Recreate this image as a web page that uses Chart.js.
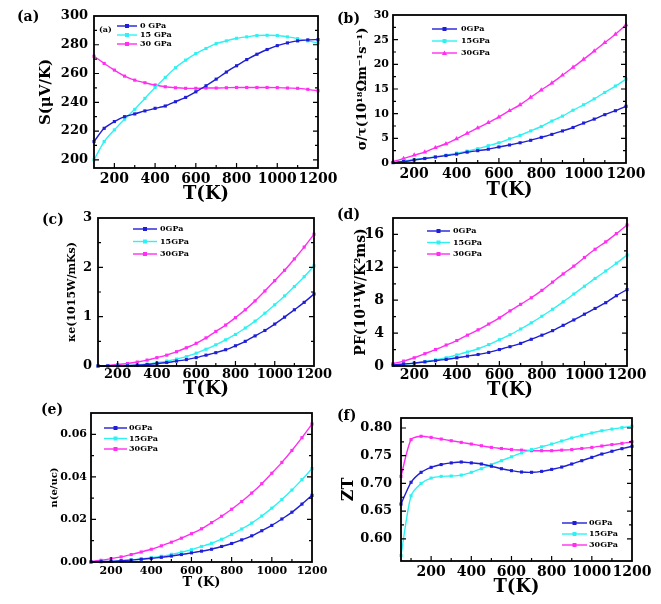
<!DOCTYPE html>
<html><head><meta charset="utf-8">
<script src="https://cdn.jsdelivr.net/npm/chart.js@4.4.0/dist/chart.umd.min.js"></script>
<style>
html,body{margin:0;padding:0;background:#fff;}
#wrap{position:relative;width:661px;height:604px;overflow:hidden;background:#fff;}
#wrap canvas{position:absolute;left:0;top:0;}
.lbl{position:absolute;font:bold 14px "DejaVu Serif",serif;color:#000;line-height:1;}
</style></head><body>
<div id="wrap">
<canvas id="ca" width="661" height="604"></canvas>
<canvas id="cb" width="661" height="604"></canvas>
<canvas id="cc" width="661" height="604"></canvas>
<canvas id="cd" width="661" height="604"></canvas>
<canvas id="ce" width="661" height="604"></canvas>
<canvas id="cf" width="661" height="604"></canvas>
<div class="lbl" style="left:17px;top:9px">(a)</div>
<div class="lbl" style="left:337px;top:11px">(b)</div>
<div class="lbl" style="left:42px;top:212px">(c)</div>
<div class="lbl" style="left:337px;top:207px">(d)</div>
<div class="lbl" style="left:41px;top:402px">(e)</div>
<div class="lbl" style="left:337px;top:408px">(f)</div>
</div>
<script>
// ---------- data ----------
const temps = [100,150,200,250,300,350,400,450,500,550,600,650,700,750,800,850,900,950,1000,1050,1100,1150,1200];
const tempsZT = [50,100,150,200,250,300,350,400,450,500,550,600,650,700,750,800,850,900,950,1000,1050,1100,1150,1200];
const seriesNames = ['0GPa','15GPa','30GPa'];
const seriesNamesA = ['0 GPa','15 GPa','30 GPa'];

const seebeck0  = [212.7,221.9,226.6,230.0,231.9,234.0,235.8,237.4,240.4,243.4,247.3,251.5,256.1,261.0,265.4,269.7,273.4,276.7,279.4,281.3,282.7,283.4,283.6];
const seebeck15 = [200.0,212.7,220.8,228.2,235.1,242.7,250.3,257.3,264.0,269.3,273.9,277.4,280.8,282.7,284.5,285.5,286.4,286.6,286.4,285.5,284.3,282.7,281.3];
const seebeck30 = [272.0,267.0,262.4,258.2,255.4,253.6,252.0,250.8,250.1,249.7,249.7,249.9,249.9,250.1,250.3,250.3,250.3,250.3,250.2,249.9,249.7,249.0,248.0];

const sigma0  = [0.07,0.3,0.6,0.9,1.2,1.5,1.8,2.2,2.5,2.8,3.25,3.65,4.1,4.6,5.2,5.8,6.5,7.2,8.1,8.9,9.8,10.6,11.5];
const sigma15 = [0.1,0.4,0.7,0.95,1.3,1.6,2.0,2.4,2.9,3.5,4.1,4.9,5.6,6.5,7.4,8.5,9.5,10.7,11.8,13.0,14.3,15.6,17.0];
const sigma30 = [0.3,0.9,1.6,2.2,3.1,3.9,4.9,6.0,7.1,8.2,9.3,10.6,11.8,13.3,14.8,16.2,17.8,19.4,21.0,22.7,24.4,26.1,28.0];

const kappa0  = [0,0,0,0.005,0.015,0.03,0.05,0.07,0.1,0.13,0.17,0.22,0.27,0.33,0.41,0.5,0.61,0.72,0.85,0.99,1.14,1.29,1.46];
const kappa15 = [0,0,0.005,0.01,0.02,0.04,0.07,0.1,0.14,0.19,0.26,0.34,0.43,0.53,0.64,0.77,0.91,1.07,1.24,1.42,1.61,1.81,2.03];
const kappa30 = [0,0.01,0.03,0.05,0.08,0.12,0.17,0.22,0.29,0.37,0.46,0.57,0.70,0.83,0.98,1.14,1.32,1.52,1.73,1.94,2.17,2.41,2.67];

const pf0  = [0.12,0.25,0.35,0.5,0.65,0.8,1.0,1.2,1.4,1.65,2.0,2.35,2.75,3.25,3.75,4.3,4.95,5.6,6.3,7.0,7.7,8.55,9.3];
const pf15 = [0.1,0.2,0.35,0.55,0.75,1.0,1.35,1.7,2.1,2.6,3.2,3.8,4.5,5.25,6.05,6.9,7.8,8.75,9.7,10.65,11.55,12.5,13.5];
const pf30 = [0.3,0.6,1.0,1.5,2.0,2.55,3.1,3.75,4.4,5.1,5.85,6.7,7.5,8.3,9.2,10.2,11.2,12.15,13.2,14.2,15.1,16.1,17.15];

const carrier0  = [0,0.0002,0.0003,0.0006,0.0009,0.0013,0.0017,0.0022,0.0028,0.0035,0.0043,0.0051,0.006,0.0073,0.0087,0.0104,0.0123,0.0147,0.0172,0.0202,0.0234,0.0272,0.0313];
const carrier15 = [0,0.0001,0.0003,0.0006,0.001,0.0014,0.002,0.0027,0.0036,0.0046,0.0058,0.0073,0.0088,0.0107,0.013,0.0155,0.0183,0.0216,0.0253,0.0294,0.0338,0.0387,0.0439];
const carrier30 = [0.0002,0.0008,0.0016,0.0024,0.0035,0.0047,0.006,0.0076,0.0093,0.0112,0.0133,0.0156,0.0185,0.0215,0.0248,0.0284,0.0324,0.0368,0.0417,0.0468,0.0524,0.0584,0.0648];

const zt0  = [0.6627,0.702,0.72,0.729,0.734,0.737,0.7386,0.737,0.735,0.731,0.7265,0.723,0.7205,0.72,0.7217,0.7253,0.7295,0.735,0.741,0.747,0.753,0.758,0.7627,0.767];
const zt15 = [0.570,0.6777,0.700,0.7096,0.7127,0.7133,0.715,0.720,0.7265,0.734,0.741,0.748,0.755,0.761,0.766,0.771,0.7765,0.782,0.7867,0.791,0.795,0.798,0.8006,0.803];
const zt30 = [0.7127,0.779,0.785,0.783,0.780,0.777,0.774,0.771,0.768,0.765,0.763,0.761,0.760,0.759,0.759,0.759,0.760,0.761,0.763,0.765,0.7675,0.770,0.7723,0.775];

const xTickLabels = [200,400,600,800,1000,1200];
const yTicksA = [200,220,240,260,280,300];
const yTicksB = [0,5,10,15,20,25,30];
const yTicksC = [0,1,2,3];
const yTicksD = [0,4,8,12,16];
const yTicksE = [0,0.02,0.04,0.06];
const yTicksF = [0.60,0.65,0.70,0.75,0.80];

// ---------- styling ----------
const COLORS = ['#1f1fd6','#2ef2f2','#ff2ef0'];
const FAM = '"DejaVu Serif", serif';
const W = 661, H = 604;

const framePlugin = {
  id:'frame',
  afterDatasetsDraw(chart, args, o){
    const {ctx, chartArea:a, scales:{x,y}} = chart;
    ctx.save();
    ctx.strokeStyle = '#000';
    ctx.lineWidth = 1.8;
    ctx.strokeRect(a.left, a.top, a.right-a.left, a.bottom-a.top);
    ctx.lineWidth = 1.2;
    const xv = x.ticks.map(t=>t.value), yv = y.ticks.map(t=>t.value);
    const xs = [], ys = [];
    xv.forEach((v,i)=>{ xs.push([v,5]); if(i>0) xs.push([(v+xv[i-1])/2,3]); });
    if (xv.length>1) xs.push([xv[0]-(xv[1]-xv[0])/2,3]);
    yv.forEach((v,i)=>{ ys.push([v,5]); if(i>0) ys.push([(v+yv[i-1])/2,3]); });
    ctx.beginPath();
    xs.forEach(([v,l])=>{ const p = x.getPixelForValue(v); if(p>a.left+1 && p<a.right-1){ ctx.moveTo(p,a.bottom); ctx.lineTo(p,a.bottom-l);} });
    ys.forEach(([v,l])=>{ const p = y.getPixelForValue(v); if(p>a.top+1 && p<a.bottom-1){ ctx.moveTo(a.left,p); ctx.lineTo(a.left+l,p); ctx.moveTo(a.right,p); ctx.lineTo(a.right-l,p);} });
    ctx.stroke();
    ctx.restore();
  }
};

const legendPlugin = {
  id:'inlegend',
  afterDraw(chart, args, o){
    if(!o || o.x===undefined) return;
    const ctx = chart.ctx;
    ctx.save();
    ctx.font = 'bold ' + o.size + 'px ' + FAM;
    ctx.textBaseline = 'middle';
    ctx.textAlign = 'left';
    chart.data.datasets.forEach((ds,i)=>{
      const y = o.y + i*o.dy;
      ctx.strokeStyle = ds.borderColor; ctx.lineWidth = 1.4;
      ctx.beginPath(); ctx.moveTo(o.x,y); ctx.lineTo(o.x+o.len,y); ctx.stroke();
      ctx.fillStyle = ds.borderColor;
      const mx = o.x + o.len/2;
      if (ds.pointStyle==='triangle'){ ctx.beginPath(); ctx.moveTo(mx,y-2.6); ctx.lineTo(mx+2.6,y+2); ctx.lineTo(mx-2.6,y+2); ctx.closePath(); ctx.fill(); }
      else ctx.fillRect(mx-2,y-2,4,4);
      ctx.fillStyle = '#000';
      ctx.fillText(ds.label, o.x+o.len+o.gap, y);
    });
    if (o.tag){ ctx.fillText(o.tag.text, o.tag.x, o.tag.y); }
    ctx.restore();
  }
};

function makePanel(id, p){
  const datasets = p.values.map((vals,i)=>({
    label: p.names[i],
    data: p.x.map((t,j)=>({x:t, y:vals[j]})),
    borderColor: COLORS[i], backgroundColor: COLORS[i],
    borderWidth: 1.4, pointStyle: (p.styles && p.styles[i]) || 'rect',
    pointRadius: (p.styles && p.styles[i]==='triangle') ? 2.8 : 2.2,
    pointBorderWidth: 0, tension: 0.25, clip: false
  }));
  const lhx = p.xTitleSize*1.2, lhy = p.yTitleSize*1.2;
  return new Chart(document.getElementById(id), {
    type:'line',
    data:{datasets},
    plugins:[framePlugin, legendPlugin],
    options:{
      responsive:false, animation:false, events:[],
      layout:{padding:{left:0, top:p.T, right:W-p.R, bottom:0}},
      plugins:{legend:{display:false}, tooltip:{enabled:false}, inlegend:p.legend},
      scales:{
        x:{type:'linear', position:'bottom', min:p.xmin, max:p.xmax,
          afterFit:s=>{s.height = H - p.B;},
          afterBuildTicks:s=>{s.ticks = xTickLabels.map(v=>({value:v}));},
          grid:{display:false, drawTicks:false, tickLength:0}, border:{display:false},
          ticks:{color:'#000', font:{family:FAM, weight:'bold', size:p.xTickSize}, padding:p.xTickPad, maxRotation:0, autoSkip:false,
            callback:(v)=>String(v)},
          title:{display:true, text:p.xTitle, color:'#000', font:{family:FAM, weight:'bold', size:p.xTitleSize},
            padding:{top:0, bottom: H - p.xTitleY - lhx/2}}
        },
        y:{type:'linear', position:'left', min:p.ymin, max:p.ymax,
          afterFit:s=>{s.width = p.L;},
          afterBuildTicks:s=>{s.ticks = p.yTicks.map(v=>({value:v}));},
          grid:{display:false, drawTicks:false, tickLength:0}, border:{display:false},
          ticks:{color:'#000', font:{family:FAM, weight:'bold', size:p.yTickSize}, padding:p.yTickPad, autoSkip:false,
            callback:(v)=> p.yDec!==undefined ? Number(v).toFixed(p.yDec) : String(v)},
          title:{display:true, text:p.yTitle, color:'#000', font:{family:FAM, weight:'bold', size:p.yTitleSize},
            padding:{top: p.yTitleX - lhy/2, bottom:0}}
        }
      }
    }
  });
}

makePanel('ca', {L:94,R:318,T:16,B:168, xmin:100,xmax:1200, ymin:194.3,ymax:300,
  x:temps, values:[seebeck0,seebeck15,seebeck30], names:seriesNamesA, yTicks:yTicksA,
  xTickSize:14, xTickPad:3, yTickSize:13, yTickPad:6,
  xTitle:'T(K)', xTitleSize:18, xTitleY:194, yTitle:'S(\u03bcV/K)', yTitleSize:15, yTitleX:46,
  legend:{x:117, y:26, dy:9, len:20, gap:3, size:8, tag:{text:'(a)', x:99, y:30}}});

makePanel('cb', {L:393,R:626,T:15,B:163, xmin:100,xmax:1200, ymin:0,ymax:30,
  x:temps, values:[sigma0,sigma15,sigma30], names:seriesNames, yTicks:yTicksB, styles:['rect','rect','triangle'],
  xTickSize:14, xTickPad:3, yTickSize:11, yTickPad:4,
  xTitle:'T(K)', xTitleSize:18, xTitleY:190, yTitle:'\u03c3/\u03c4(10\u00b9\u2078\u03a9m\u207b\u00b9s\u207b\u00b9)', yTitleSize:13, yTitleX:363,
  legend:{x:432, y:29, dy:12, len:25, gap:4, size:8}});

makePanel('cc', {L:98,R:314,T:218,B:366, xmin:100,xmax:1200, ymin:0,ymax:3,
  x:temps, values:[kappa0,kappa15,kappa30], names:seriesNames, yTicks:yTicksC,
  xTickSize:13, xTickPad:1, yTickSize:13, yTickPad:6,
  xTitle:'T(K)', xTitleSize:18, xTitleY:389, yTitle:'\u03bae(1015W/mKs)', yTitleSize:11, yTitleX:72,
  legend:{x:133, y:229, dy:12.5, len:24, gap:3, size:8}});

makePanel('cd', {L:393,R:627,T:218,B:366, xmin:100,xmax:1200, ymin:0,ymax:18,
  x:temps, values:[pf0,pf15,pf30], names:seriesNames, yTicks:yTicksD,
  xTickSize:14, xTickPad:1, yTickSize:14, yTickPad:9,
  xTitle:'T(K)', xTitleSize:18, xTitleY:390, yTitle:'PF(10\u00b9\u00b9W/K\u00b2ms)', yTitleSize:14, yTitleX:361,
  legend:{x:427, y:231, dy:11.5, len:23, gap:3, size:8}});

makePanel('ce', {L:91,R:312,T:413,B:562, xmin:100,xmax:1200, ymin:0,ymax:0.07,
  x:temps, values:[carrier0,carrier15,carrier30], names:seriesNames, yTicks:yTicksE, yDec:2,
  xTickSize:11, xTickPad:3, yTickSize:11, yTickPad:4,
  xTitle:'T (K)', xTitleSize:13, xTitleY:583, yTitle:'n(e/uc)', yTitleSize:10, yTitleX:54,
  legend:{x:104, y:428, dy:10.5, len:23, gap:2, size:8}});

makePanel('cf', {L:401,R:632,T:418,B:561, xmin:50,xmax:1200, ymin:0.56,ymax:0.818,
  x:tempsZT, values:[zt0,zt15,zt30], names:seriesNames, yTicks:yTicksF, yDec:2,
  xTickSize:14, xTickPad:3, yTickSize:13, yTickPad:9,
  xTitle:'T(K)', xTitleSize:18, xTitleY:587, yTitle:'ZT', yTitleSize:16, yTitleX:349,
  legend:{x:562, y:523, dy:11, len:25, gap:2, size:8}});
</script>
</body></html>
